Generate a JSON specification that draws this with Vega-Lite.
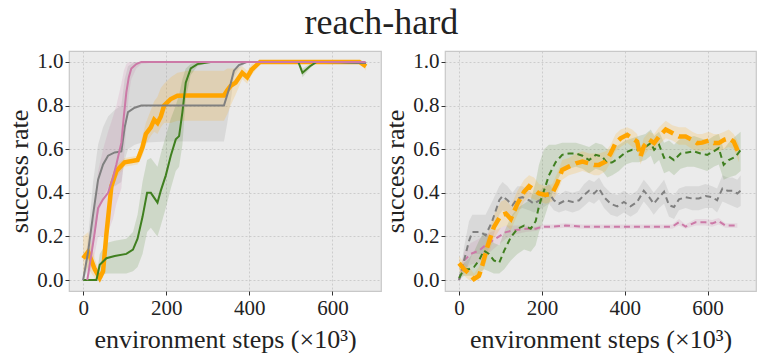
{
  "$schema": "https://vega.github.io/schema/vega-lite/v6.json",
  "padding": {"left": 6, "top": 5, "right": 0, "bottom": 0},
  "title": {"text": "reach-hard", "font": "Liberation Serif", "fontSize": 36, "fontWeight": "normal", "color": "#222222", "anchor": "middle", "offset": 8},
  "datasets": {
    "left": [
      {"s":"pink","x":10,"y":0,"lo":0,"hi":0},
      {"s":"pink","x":20,"y":0.12,"lo":0.05,"hi":0.2},
      {"s":"pink","x":28,"y":0.22,"lo":0.12,"hi":0.35},
      {"s":"pink","x":36,"y":0.33,"lo":0.2,"hi":0.5},
      {"s":"pink","x":48,"y":0.37,"lo":0.2,"hi":0.6},
      {"s":"pink","x":60,"y":0.4,"lo":0.22,"hi":0.68},
      {"s":"pink","x":72,"y":0.47,"lo":0.28,"hi":0.75},
      {"s":"pink","x":80,"y":0.53,"lo":0.35,"hi":0.8},
      {"s":"pink","x":92,"y":0.63,"lo":0.42,"hi":0.9},
      {"s":"pink","x":98,"y":0.75,"lo":0.55,"hi":0.96},
      {"s":"pink","x":104,"y":0.86,"lo":0.7,"hi":0.99},
      {"s":"pink","x":110,"y":0.93,"lo":0.85,"hi":1.0},
      {"s":"pink","x":116,"y":0.97,"lo":0.92,"hi":1.0},
      {"s":"pink","x":128,"y":0.99,"lo":0.97,"hi":1.0},
      {"s":"pink","x":140,"y":1.0,"lo":0.99,"hi":1.0},
      {"s":"pink","x":180,"y":1.0,"lo":1.0,"hi":1.0},
      {"s":"pink","x":260,"y":1.0,"lo":1.0,"hi":1.0},
      {"s":"pink","x":340,"y":1.0,"lo":1.0,"hi":1.0},
      {"s":"pink","x":420,"y":1.0,"lo":1.0,"hi":1.0},
      {"s":"pink","x":500,"y":1.0,"lo":1.0,"hi":1.0},
      {"s":"pink","x":580,"y":1.0,"lo":1.0,"hi":1.0},
      {"s":"pink","x":680,"y":1.0,"lo":1.0,"hi":1.0},

      {"s":"grey","x":0,"y":0,"lo":0,"hi":0},
      {"s":"grey","x":12,"y":0.13,"lo":0.05,"hi":0.2},
      {"s":"grey","x":24,"y":0.3,"lo":0.15,"hi":0.45},
      {"s":"grey","x":36,"y":0.46,"lo":0.3,"hi":0.62},
      {"s":"grey","x":48,"y":0.53,"lo":0.38,"hi":0.7},
      {"s":"grey","x":60,"y":0.57,"lo":0.42,"hi":0.75},
      {"s":"grey","x":76,"y":0.585,"lo":0.43,"hi":0.78},
      {"s":"grey","x":92,"y":0.59,"lo":0.45,"hi":0.8},
      {"s":"grey","x":100,"y":0.7,"lo":0.55,"hi":0.92},
      {"s":"grey","x":108,"y":0.77,"lo":0.6,"hi":0.98},
      {"s":"grey","x":124,"y":0.79,"lo":0.62,"hi":1.0},
      {"s":"grey","x":140,"y":0.8,"lo":0.63,"hi":1.0},
      {"s":"grey","x":200,"y":0.8,"lo":0.635,"hi":1.0},
      {"s":"grey","x":280,"y":0.8,"lo":0.635,"hi":1.0},
      {"s":"grey","x":339,"y":0.8,"lo":0.635,"hi":1.0},
      {"s":"grey","x":347,"y":0.85,"lo":0.72,"hi":1.0},
      {"s":"grey","x":355,"y":0.9,"lo":0.82,"hi":1.0},
      {"s":"grey","x":363,"y":0.96,"lo":0.93,"hi":1.0},
      {"s":"grey","x":375,"y":0.985,"lo":0.97,"hi":1.0},
      {"s":"grey","x":395,"y":1.0,"lo":1.0,"hi":1.0},
      {"s":"grey","x":480,"y":1.0,"lo":1.0,"hi":1.0},
      {"s":"grey","x":580,"y":1.0,"lo":1.0,"hi":1.0},
      {"s":"grey","x":681,"y":0.995,"lo":0.99,"hi":1.0},

      {"s":"orange","x":0,"y":0.1,"lo":0.02,"hi":0.2},
      {"s":"orange","x":12,"y":0.13,"lo":0.06,"hi":0.22},
      {"s":"orange","x":20,"y":0.09,"lo":0.03,"hi":0.16},
      {"s":"orange","x":28,"y":0.05,"lo":0.01,"hi":0.1},
      {"s":"orange","x":40,"y":0.01,"lo":0.0,"hi":0.03},
      {"s":"orange","x":48,"y":0.04,"lo":0.01,"hi":0.08},
      {"s":"orange","x":56,"y":0.21,"lo":0.17,"hi":0.25},
      {"s":"orange","x":68,"y":0.43,"lo":0.39,"hi":0.47},
      {"s":"orange","x":80,"y":0.5,"lo":0.47,"hi":0.53},
      {"s":"orange","x":100,"y":0.54,"lo":0.52,"hi":0.56},
      {"s":"orange","x":131,"y":0.55,"lo":0.53,"hi":0.57},
      {"s":"orange","x":143,"y":0.61,"lo":0.57,"hi":0.66},
      {"s":"orange","x":151,"y":0.67,"lo":0.62,"hi":0.72},
      {"s":"orange","x":163,"y":0.7,"lo":0.66,"hi":0.78},
      {"s":"orange","x":171,"y":0.735,"lo":0.68,"hi":0.82},
      {"s":"orange","x":179,"y":0.72,"lo":0.67,"hi":0.84},
      {"s":"orange","x":187,"y":0.75,"lo":0.7,"hi":0.88},
      {"s":"orange","x":195,"y":0.8,"lo":0.72,"hi":0.9},
      {"s":"orange","x":211,"y":0.83,"lo":0.72,"hi":0.93},
      {"s":"orange","x":227,"y":0.845,"lo":0.73,"hi":0.95},
      {"s":"orange","x":251,"y":0.846,"lo":0.73,"hi":0.96},
      {"s":"orange","x":300,"y":0.846,"lo":0.73,"hi":0.96},
      {"s":"orange","x":339,"y":0.846,"lo":0.73,"hi":0.96},
      {"s":"orange","x":347,"y":0.87,"lo":0.76,"hi":0.97},
      {"s":"orange","x":355,"y":0.89,"lo":0.8,"hi":0.97},
      {"s":"orange","x":367,"y":0.905,"lo":0.85,"hi":0.97},
      {"s":"orange","x":383,"y":0.95,"lo":0.92,"hi":0.98},
      {"s":"orange","x":395,"y":0.93,"lo":0.9,"hi":0.96},
      {"s":"orange","x":406,"y":0.965,"lo":0.94,"hi":0.99},
      {"s":"orange","x":426,"y":1.0,"lo":0.99,"hi":1.0},
      {"s":"orange","x":500,"y":1.0,"lo":1.0,"hi":1.0},
      {"s":"orange","x":580,"y":1.0,"lo":1.0,"hi":1.0},
      {"s":"orange","x":665,"y":1.0,"lo":1.0,"hi":1.0},
      {"s":"orange","x":681,"y":0.98,"lo":0.96,"hi":1.0},

      {"s":"green","x":0,"y":0,"lo":0,"hi":0},
      {"s":"green","x":16,"y":0,"lo":0,"hi":0},
      {"s":"green","x":32,"y":0,"lo":0,"hi":0.01},
      {"s":"green","x":40,"y":0.07,"lo":0.02,"hi":0.12},
      {"s":"green","x":56,"y":0.1,"lo":0.03,"hi":0.17},
      {"s":"green","x":76,"y":0.11,"lo":0.03,"hi":0.18},
      {"s":"green","x":104,"y":0.12,"lo":0.03,"hi":0.19},
      {"s":"green","x":120,"y":0.14,"lo":0.04,"hi":0.22},
      {"s":"green","x":131,"y":0.19,"lo":0.06,"hi":0.3},
      {"s":"green","x":143,"y":0.29,"lo":0.12,"hi":0.45},
      {"s":"green","x":154,"y":0.4,"lo":0.22,"hi":0.55},
      {"s":"green","x":163,"y":0.4,"lo":0.24,"hi":0.56},
      {"s":"green","x":179,"y":0.355,"lo":0.2,"hi":0.52},
      {"s":"green","x":187,"y":0.41,"lo":0.25,"hi":0.58},
      {"s":"green","x":199,"y":0.48,"lo":0.33,"hi":0.66},
      {"s":"green","x":211,"y":0.57,"lo":0.42,"hi":0.74},
      {"s":"green","x":223,"y":0.645,"lo":0.5,"hi":0.8},
      {"s":"green","x":231,"y":0.66,"lo":0.52,"hi":0.85},
      {"s":"green","x":239,"y":0.77,"lo":0.62,"hi":0.92},
      {"s":"green","x":247,"y":0.905,"lo":0.83,"hi":0.97},
      {"s":"green","x":259,"y":0.97,"lo":0.94,"hi":0.99},
      {"s":"green","x":275,"y":0.99,"lo":0.98,"hi":1.0},
      {"s":"green","x":307,"y":1.0,"lo":1.0,"hi":1.0},
      {"s":"green","x":400,"y":1.0,"lo":1.0,"hi":1.0},
      {"s":"green","x":518,"y":1.0,"lo":1.0,"hi":1.0},
      {"s":"green","x":528,"y":0.95,"lo":0.93,"hi":0.97},
      {"s":"green","x":546,"y":0.98,"lo":0.97,"hi":0.99},
      {"s":"green","x":562,"y":1.0,"lo":1.0,"hi":1.0},
      {"s":"green","x":620,"y":1.0,"lo":1.0,"hi":1.0},
      {"s":"green","x":681,"y":0.995,"lo":0.99,"hi":1.0}
    ],
    "right": [
      {"s":"pink","x":0,"y":0,"lo":0,"hi":0},
      {"s":"pink","x":12,"y":0.09,"lo":0.05,"hi":0.13},
      {"s":"pink","x":28,"y":0.12,"lo":0.07,"hi":0.17},
      {"s":"pink","x":48,"y":0.135,"lo":0.08,"hi":0.19},
      {"s":"pink","x":64,"y":0.16,"lo":0.11,"hi":0.21},
      {"s":"pink","x":88,"y":0.19,"lo":0.15,"hi":0.23},
      {"s":"pink","x":113,"y":0.22,"lo":0.19,"hi":0.25},
      {"s":"pink","x":137,"y":0.23,"lo":0.21,"hi":0.25},
      {"s":"pink","x":161,"y":0.235,"lo":0.22,"hi":0.25},
      {"s":"pink","x":185,"y":0.235,"lo":0.225,"hi":0.245},
      {"s":"pink","x":201,"y":0.245,"lo":0.235,"hi":0.255},
      {"s":"pink","x":225,"y":0.245,"lo":0.235,"hi":0.255},
      {"s":"pink","x":257,"y":0.25,"lo":0.24,"hi":0.26},
      {"s":"pink","x":298,"y":0.245,"lo":0.235,"hi":0.255},
      {"s":"pink","x":338,"y":0.245,"lo":0.235,"hi":0.255},
      {"s":"pink","x":378,"y":0.245,"lo":0.235,"hi":0.255},
      {"s":"pink","x":418,"y":0.245,"lo":0.235,"hi":0.255},
      {"s":"pink","x":466,"y":0.245,"lo":0.235,"hi":0.255},
      {"s":"pink","x":515,"y":0.245,"lo":0.235,"hi":0.255},
      {"s":"pink","x":531,"y":0.265,"lo":0.25,"hi":0.28},
      {"s":"pink","x":547,"y":0.245,"lo":0.235,"hi":0.255},
      {"s":"pink","x":571,"y":0.265,"lo":0.25,"hi":0.28},
      {"s":"pink","x":595,"y":0.265,"lo":0.25,"hi":0.28},
      {"s":"pink","x":611,"y":0.26,"lo":0.245,"hi":0.275},
      {"s":"pink","x":627,"y":0.27,"lo":0.255,"hi":0.285},
      {"s":"pink","x":643,"y":0.25,"lo":0.24,"hi":0.26},
      {"s":"pink","x":672,"y":0.25,"lo":0.24,"hi":0.26},

      {"s":"grey","x":0,"y":0,"lo":0,"hi":0},
      {"s":"grey","x":12,"y":0.09,"lo":0.03,"hi":0.15},
      {"s":"grey","x":24,"y":0.18,"lo":0.08,"hi":0.27},
      {"s":"grey","x":32,"y":0.22,"lo":0.12,"hi":0.3},
      {"s":"grey","x":52,"y":0.22,"lo":0.12,"hi":0.3},
      {"s":"grey","x":64,"y":0.205,"lo":0.11,"hi":0.3},
      {"s":"grey","x":80,"y":0.27,"lo":0.18,"hi":0.36},
      {"s":"grey","x":97,"y":0.366,"lo":0.3,"hi":0.43},
      {"s":"grey","x":105,"y":0.385,"lo":0.32,"hi":0.45},
      {"s":"grey","x":117,"y":0.366,"lo":0.31,"hi":0.43},
      {"s":"grey","x":129,"y":0.343,"lo":0.29,"hi":0.4},
      {"s":"grey","x":141,"y":0.374,"lo":0.32,"hi":0.43},
      {"s":"grey","x":153,"y":0.38,"lo":0.33,"hi":0.43},
      {"s":"grey","x":169,"y":0.366,"lo":0.32,"hi":0.41},
      {"s":"grey","x":181,"y":0.35,"lo":0.31,"hi":0.39},
      {"s":"grey","x":201,"y":0.374,"lo":0.33,"hi":0.42},
      {"s":"grey","x":217,"y":0.397,"lo":0.35,"hi":0.44},
      {"s":"grey","x":229,"y":0.366,"lo":0.32,"hi":0.41},
      {"s":"grey","x":241,"y":0.35,"lo":0.31,"hi":0.39},
      {"s":"grey","x":257,"y":0.366,"lo":0.32,"hi":0.41},
      {"s":"grey","x":274,"y":0.358,"lo":0.31,"hi":0.4},
      {"s":"grey","x":290,"y":0.366,"lo":0.32,"hi":0.41},
      {"s":"grey","x":302,"y":0.39,"lo":0.34,"hi":0.44},
      {"s":"grey","x":314,"y":0.41,"lo":0.36,"hi":0.46},
      {"s":"grey","x":326,"y":0.397,"lo":0.35,"hi":0.45},
      {"s":"grey","x":338,"y":0.42,"lo":0.37,"hi":0.47},
      {"s":"grey","x":350,"y":0.38,"lo":0.33,"hi":0.43},
      {"s":"grey","x":366,"y":0.35,"lo":0.3,"hi":0.4},
      {"s":"grey","x":382,"y":0.338,"lo":0.29,"hi":0.39},
      {"s":"grey","x":398,"y":0.358,"lo":0.31,"hi":0.41},
      {"s":"grey","x":414,"y":0.338,"lo":0.29,"hi":0.39},
      {"s":"grey","x":430,"y":0.358,"lo":0.31,"hi":0.41},
      {"s":"grey","x":446,"y":0.41,"lo":0.36,"hi":0.46},
      {"s":"grey","x":459,"y":0.38,"lo":0.33,"hi":0.43},
      {"s":"grey","x":470,"y":0.35,"lo":0.3,"hi":0.4},
      {"s":"grey","x":483,"y":0.38,"lo":0.33,"hi":0.43},
      {"s":"grey","x":495,"y":0.405,"lo":0.35,"hi":0.46},
      {"s":"grey","x":507,"y":0.343,"lo":0.29,"hi":0.4},
      {"s":"grey","x":519,"y":0.335,"lo":0.28,"hi":0.39},
      {"s":"grey","x":531,"y":0.37,"lo":0.32,"hi":0.42},
      {"s":"grey","x":547,"y":0.38,"lo":0.33,"hi":0.43},
      {"s":"grey","x":563,"y":0.374,"lo":0.32,"hi":0.43},
      {"s":"grey","x":579,"y":0.374,"lo":0.32,"hi":0.43},
      {"s":"grey","x":595,"y":0.385,"lo":0.33,"hi":0.44},
      {"s":"grey","x":611,"y":0.38,"lo":0.33,"hi":0.43},
      {"s":"grey","x":623,"y":0.366,"lo":0.31,"hi":0.42},
      {"s":"grey","x":636,"y":0.42,"lo":0.36,"hi":0.48},
      {"s":"grey","x":648,"y":0.41,"lo":0.35,"hi":0.47},
      {"s":"grey","x":660,"y":0.41,"lo":0.34,"hi":0.47},
      {"s":"grey","x":672,"y":0.397,"lo":0.33,"hi":0.46},
      {"s":"grey","x":680,"y":0.41,"lo":0.34,"hi":0.48},

      {"s":"green","x":0,"y":0.01,"lo":0.0,"hi":0.03},
      {"s":"green","x":12,"y":0.05,"lo":0.02,"hi":0.08},
      {"s":"green","x":24,"y":0.05,"lo":0.02,"hi":0.1},
      {"s":"green","x":36,"y":0.06,"lo":0.02,"hi":0.13},
      {"s":"green","x":48,"y":0.09,"lo":0.03,"hi":0.18},
      {"s":"green","x":60,"y":0.135,"lo":0.05,"hi":0.22},
      {"s":"green","x":72,"y":0.12,"lo":0.04,"hi":0.2},
      {"s":"green","x":84,"y":0.09,"lo":0.03,"hi":0.17},
      {"s":"green","x":97,"y":0.08,"lo":0.03,"hi":0.16},
      {"s":"green","x":109,"y":0.135,"lo":0.05,"hi":0.22},
      {"s":"green","x":125,"y":0.197,"lo":0.09,"hi":0.29},
      {"s":"green","x":141,"y":0.235,"lo":0.12,"hi":0.33},
      {"s":"green","x":157,"y":0.25,"lo":0.14,"hi":0.35},
      {"s":"green","x":173,"y":0.235,"lo":0.13,"hi":0.37},
      {"s":"green","x":185,"y":0.27,"lo":0.16,"hi":0.45},
      {"s":"green","x":193,"y":0.34,"lo":0.22,"hi":0.53},
      {"s":"green","x":205,"y":0.41,"lo":0.28,"hi":0.6},
      {"s":"green","x":217,"y":0.48,"lo":0.35,"hi":0.62},
      {"s":"green","x":233,"y":0.54,"lo":0.44,"hi":0.62},
      {"s":"green","x":249,"y":0.574,"lo":0.5,"hi":0.63},
      {"s":"green","x":265,"y":0.58,"lo":0.51,"hi":0.63},
      {"s":"green","x":282,"y":0.58,"lo":0.52,"hi":0.63},
      {"s":"green","x":298,"y":0.57,"lo":0.51,"hi":0.62},
      {"s":"green","x":314,"y":0.55,"lo":0.49,"hi":0.61},
      {"s":"green","x":330,"y":0.574,"lo":0.51,"hi":0.63},
      {"s":"green","x":346,"y":0.566,"lo":0.5,"hi":0.62},
      {"s":"green","x":358,"y":0.535,"lo":0.47,"hi":0.6},
      {"s":"green","x":370,"y":0.54,"lo":0.48,"hi":0.6},
      {"s":"green","x":386,"y":0.56,"lo":0.5,"hi":0.62},
      {"s":"green","x":402,"y":0.585,"lo":0.53,"hi":0.64},
      {"s":"green","x":418,"y":0.597,"lo":0.54,"hi":0.65},
      {"s":"green","x":434,"y":0.597,"lo":0.54,"hi":0.66},
      {"s":"green","x":450,"y":0.61,"lo":0.55,"hi":0.67},
      {"s":"green","x":463,"y":0.628,"lo":0.57,"hi":0.69},
      {"s":"green","x":471,"y":0.597,"lo":0.53,"hi":0.66},
      {"s":"green","x":483,"y":0.62,"lo":0.55,"hi":0.68},
      {"s":"green","x":495,"y":0.56,"lo":0.49,"hi":0.63},
      {"s":"green","x":507,"y":0.566,"lo":0.5,"hi":0.64},
      {"s":"green","x":519,"y":0.55,"lo":0.48,"hi":0.62},
      {"s":"green","x":535,"y":0.58,"lo":0.51,"hi":0.65},
      {"s":"green","x":551,"y":0.585,"lo":0.52,"hi":0.65},
      {"s":"green","x":567,"y":0.59,"lo":0.52,"hi":0.66},
      {"s":"green","x":583,"y":0.58,"lo":0.51,"hi":0.65},
      {"s":"green","x":599,"y":0.574,"lo":0.5,"hi":0.64},
      {"s":"green","x":615,"y":0.59,"lo":0.52,"hi":0.66},
      {"s":"green","x":627,"y":0.605,"lo":0.53,"hi":0.67},
      {"s":"green","x":639,"y":0.528,"lo":0.46,"hi":0.6},
      {"s":"green","x":651,"y":0.55,"lo":0.47,"hi":0.63},
      {"s":"green","x":668,"y":0.566,"lo":0.48,"hi":0.66},
      {"s":"green","x":680,"y":0.597,"lo":0.5,"hi":0.68},

      {"s":"orange","x":0,"y":0.077,"lo":0.04,"hi":0.11},
      {"s":"orange","x":12,"y":0.05,"lo":0.02,"hi":0.08},
      {"s":"orange","x":24,"y":0.03,"lo":0.0,"hi":0.06},
      {"s":"orange","x":36,"y":0.005,"lo":0.0,"hi":0.03},
      {"s":"orange","x":48,"y":0.02,"lo":0.0,"hi":0.06},
      {"s":"orange","x":56,"y":0.066,"lo":0.03,"hi":0.11},
      {"s":"orange","x":68,"y":0.15,"lo":0.1,"hi":0.2},
      {"s":"orange","x":84,"y":0.243,"lo":0.19,"hi":0.3},
      {"s":"orange","x":101,"y":0.297,"lo":0.24,"hi":0.36},
      {"s":"orange","x":113,"y":0.305,"lo":0.25,"hi":0.37},
      {"s":"orange","x":125,"y":0.28,"lo":0.23,"hi":0.34},
      {"s":"orange","x":141,"y":0.35,"lo":0.3,"hi":0.41},
      {"s":"orange","x":157,"y":0.405,"lo":0.36,"hi":0.46},
      {"s":"orange","x":169,"y":0.43,"lo":0.38,"hi":0.48},
      {"s":"orange","x":181,"y":0.415,"lo":0.37,"hi":0.47},
      {"s":"orange","x":193,"y":0.397,"lo":0.36,"hi":0.44},
      {"s":"orange","x":209,"y":0.39,"lo":0.35,"hi":0.43},
      {"s":"orange","x":225,"y":0.397,"lo":0.36,"hi":0.44},
      {"s":"orange","x":237,"y":0.443,"lo":0.4,"hi":0.49},
      {"s":"orange","x":249,"y":0.505,"lo":0.46,"hi":0.55},
      {"s":"orange","x":265,"y":0.52,"lo":0.48,"hi":0.56},
      {"s":"orange","x":282,"y":0.535,"lo":0.49,"hi":0.58},
      {"s":"orange","x":298,"y":0.543,"lo":0.5,"hi":0.59},
      {"s":"orange","x":314,"y":0.535,"lo":0.49,"hi":0.58},
      {"s":"orange","x":326,"y":0.528,"lo":0.48,"hi":0.58},
      {"s":"orange","x":338,"y":0.528,"lo":0.48,"hi":0.58},
      {"s":"orange","x":354,"y":0.543,"lo":0.5,"hi":0.59},
      {"s":"orange","x":366,"y":0.58,"lo":0.54,"hi":0.62},
      {"s":"orange","x":378,"y":0.628,"lo":0.59,"hi":0.67},
      {"s":"orange","x":390,"y":0.65,"lo":0.61,"hi":0.69},
      {"s":"orange","x":406,"y":0.666,"lo":0.63,"hi":0.7},
      {"s":"orange","x":418,"y":0.65,"lo":0.61,"hi":0.69},
      {"s":"orange","x":430,"y":0.635,"lo":0.6,"hi":0.67},
      {"s":"orange","x":438,"y":0.566,"lo":0.53,"hi":0.6},
      {"s":"orange","x":446,"y":0.612,"lo":0.57,"hi":0.65},
      {"s":"orange","x":459,"y":0.643,"lo":0.6,"hi":0.68},
      {"s":"orange","x":471,"y":0.628,"lo":0.59,"hi":0.67},
      {"s":"orange","x":483,"y":0.658,"lo":0.62,"hi":0.7},
      {"s":"orange","x":499,"y":0.69,"lo":0.65,"hi":0.73},
      {"s":"orange","x":515,"y":0.674,"lo":0.64,"hi":0.71},
      {"s":"orange","x":531,"y":0.658,"lo":0.62,"hi":0.7},
      {"s":"orange","x":547,"y":0.658,"lo":0.62,"hi":0.7},
      {"s":"orange","x":563,"y":0.643,"lo":0.6,"hi":0.68},
      {"s":"orange","x":575,"y":0.628,"lo":0.59,"hi":0.67},
      {"s":"orange","x":587,"y":0.63,"lo":0.59,"hi":0.67},
      {"s":"orange","x":603,"y":0.64,"lo":0.6,"hi":0.68},
      {"s":"orange","x":615,"y":0.628,"lo":0.59,"hi":0.67},
      {"s":"orange","x":627,"y":0.628,"lo":0.59,"hi":0.67},
      {"s":"orange","x":640,"y":0.643,"lo":0.6,"hi":0.68},
      {"s":"orange","x":651,"y":0.65,"lo":0.61,"hi":0.69},
      {"s":"orange","x":663,"y":0.635,"lo":0.6,"hi":0.67},
      {"s":"orange","x":672,"y":0.597,"lo":0.56,"hi":0.64},
      {"s":"orange","x":676,"y":0.58,"lo":0.54,"hi":0.62}
    ]
  },
  "hconcat": [
    {
      "width": 312, "height": 240,
      "data": {"name": "left"},
      "encoding": {
        "x": {"field": "x", "type": "quantitative", "scale": {"domain": [-34, 717], "nice": false, "zero": false}, "axis": {"values": [0, 200, 400, 600], "title": "environment steps (×10³)"}},
        "y": {"field": "y", "type": "quantitative", "scale": {"domain": [-0.05, 1.05], "nice": false, "zero": false}, "axis": {"values": [0, 0.2, 0.4, 0.6, 0.8, 1.0], "format": ".1f", "title": "success rate"}}
      },
      "layer": [
        {"mark": {"type": "area", "opacity": 0.17}, "encoding": {"y": {"field": "lo", "type": "quantitative"}, "y2": {"field": "hi"}, "color": {"field": "s", "type": "nominal", "legend": null, "scale": {"domain": ["orange", "green", "grey", "pink"], "range": ["#FFA500", "#3f7f1f", "#808080", "#cc79a7"]}}, "detail": {"field": "s"}}},
        {"transform": [{"filter": "datum.s === 'orange'"}], "mark": {"type": "line", "color": "#FFA500", "strokeWidth": 4.5}, "encoding": {}},
        {"transform": [{"filter": "datum.s === 'green'"}], "mark": {"type": "line", "color": "#3f7f1f", "strokeWidth": 2}, "encoding": {}},
        {"transform": [{"filter": "datum.s === 'grey'"}], "mark": {"type": "line", "color": "#808080", "strokeWidth": 2}, "encoding": {}},
        {"transform": [{"filter": "datum.s === 'pink'"}], "mark": {"type": "line", "color": "#cc79a7", "strokeWidth": 2}, "encoding": {}}
      ]
    },
    {
      "width": 311, "height": 240,
      "data": {"name": "right"},
      "encoding": {
        "x": {"field": "x", "type": "quantitative", "scale": {"domain": [-34, 717], "nice": false, "zero": false}, "axis": {"values": [0, 200, 400, 600], "title": "environment steps (×10³)"}},
        "y": {"field": "y", "type": "quantitative", "scale": {"domain": [-0.05, 1.05], "nice": false, "zero": false}, "axis": {"values": [0, 0.2, 0.4, 0.6, 0.8, 1.0], "format": ".1f", "title": "success rate"}}
      },
      "layer": [
        {"mark": {"type": "area", "opacity": 0.17}, "encoding": {"y": {"field": "lo", "type": "quantitative"}, "y2": {"field": "hi"}, "color": {"field": "s", "type": "nominal", "legend": null, "scale": {"domain": ["orange", "green", "grey", "pink"], "range": ["#FFA500", "#3f7f1f", "#808080", "#cc79a7"]}}, "detail": {"field": "s"}}},
        {"transform": [{"filter": "datum.s === 'pink'"}], "mark": {"type": "line", "color": "#cc79a7", "strokeWidth": 2, "strokeDash": [6, 4]}, "encoding": {}},
        {"transform": [{"filter": "datum.s === 'grey'"}], "mark": {"type": "line", "color": "#808080", "strokeWidth": 2, "strokeDash": [6, 4]}, "encoding": {}},
        {"transform": [{"filter": "datum.s === 'green'"}], "mark": {"type": "line", "color": "#3f7f1f", "strokeWidth": 2, "strokeDash": [6, 4]}, "encoding": {}},
        {"transform": [{"filter": "datum.s === 'orange'"}], "mark": {"type": "line", "color": "#FFA500", "strokeWidth": 4.5, "strokeDash": [13, 6]}, "encoding": {}}
      ]
    }
  ],
  "spacing": 0,
  "config": {
    "background": "#ffffff",
    "view": {"fill": "#ebebeb", "stroke": "#c8c8c8", "strokeWidth": 1.2},
    "axis": {
      "domain": false,
      "grid": true,
      "gridColor": "#c4c4c4",
      "gridDash": [2, 2],
      "gridWidth": 0.8,
      "tickColor": "#333333",
      "tickSize": 4,
      "labelFont": "Liberation Serif",
      "labelFontSize": 21,
      "labelColor": "#222222",
      "labelPadding": 2,
      "titleFont": "Liberation Serif",
      "titleFontSize": 26,
      "titleFontWeight": "normal",
      "titleColor": "#222222"
    },
    "axisX": {"titlePadding": 8},
    "axisY": {"titlePadding": 4}
  }
}
